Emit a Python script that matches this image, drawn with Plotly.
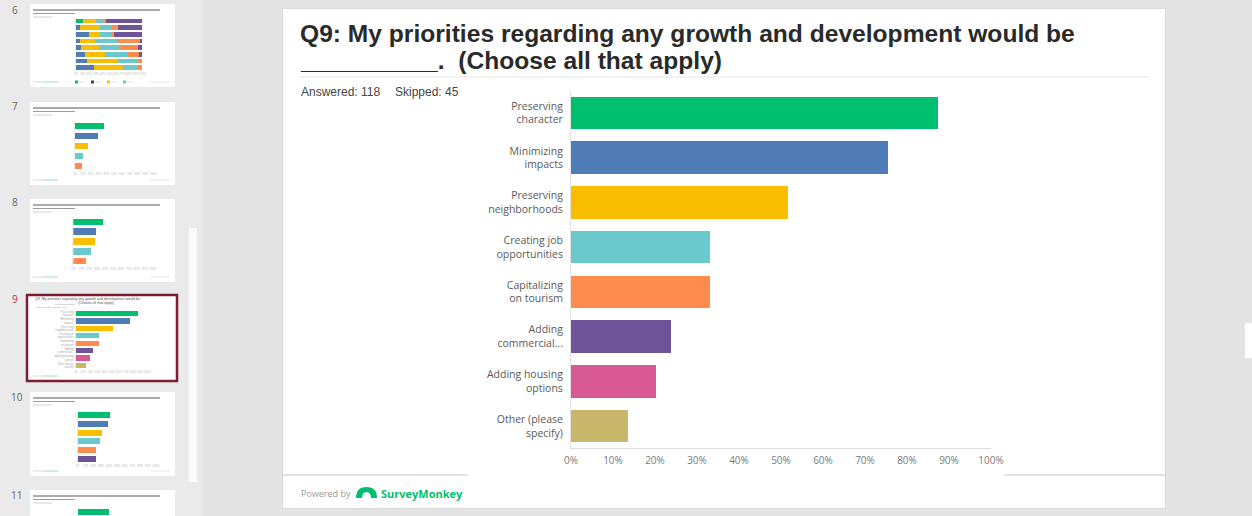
import plotly.graph_objects as go

W, H = 1252, 516


def fx(px):
    return px / W


def fy(py):
    return 1 - py / H


# ---------------- Q9 main chart data ----------------
categories = [
    "Preserving<br>character",
    "Minimizing<br>impacts",
    "Preserving<br>neighborhoods",
    "Creating job<br>opportunities",
    "Capitalizing<br>on tourism",
    "Adding<br>commercial...",
    "Adding housing<br>options",
    "Other (please<br>specify)",
]
percent = [87.29, 75.42, 51.69, 33.05, 33.05, 23.73, 20.34, 13.56]
bar_colors = ["#00bf6f", "#507cb6", "#f9be00", "#6bc8cd",
              "#ff8b4f", "#6f5399", "#d95a93", "#c8b66b"]
pct_ticks = [0, 10, 20, 30, 40, 50, 60, 70, 80, 90, 100]
pct_tick_text = ["0%", "10%", "20%", "30%", "40%", "50%",
                 "60%", "70%", "80%", "90%", "100%"]

title_line1 = "Q9: My priorities regarding any growth and development would be"
title_line2 = "__________.  (Choose all that apply)"
answered_text = "Answered: 118"
skipped_text = "Skipped: 45"

# ---------------- slide thumbnail data ----------------
q6_rows = ["r1", "r2", "r3", "r4", "r5", "r6", "r7", "r8"]
q6_seg1 = [10, 6, 19, 6.5, 7.5, 14, 16.5, 26.5]
q6_seg2 = [20, 30, 17.5, 22.5, 26.5, 29, 45, 45]
q6_seg3 = [12.5, 18, 16.5, 32.5, 32.5, 36, 32.5, 22.5]
q6_seg4 = [3, 10, 5, 35, 26.5, 16, 6, 6]
q6_seg5 = [54.5, 36, 42, 3.5, 7, 5, 0, 0]
q6_seg1_colors = ["#00bf6f"] + ["#507cb6"] * 7

q7_pct = [37.6, 29.0, 17.0, 10.3, 8.6]
q8_pct = [37.2, 28.4, 27.6, 21.7, 16.2]
q10_pct = [41.8, 38.8, 30.8, 28.2, 23.0, 23.0]
q11_pct = [40.5]

slide_numbers = ["6", "7", "8", "9", "10", "11"]

fig = go.Figure()

# main bar chart
fig.add_trace(go.Bar(
    x=percent, y=categories, orientation="h",
    marker=dict(color=bar_colors, line=dict(width=0)),
    width=0.73, xaxis="x", yaxis="y", hoverinfo="skip",
))

# thumbnail 6: stacked bars
for seg, col in [(q6_seg1, q6_seg1_colors), (q6_seg2, "#f9be00"),
                 (q6_seg3, "#6bc8cd"), (q6_seg4, "#ff8b4f"),
                 (q6_seg5, "#6f5399")]:
    fig.add_trace(go.Bar(
        x=seg, y=q6_rows, orientation="h", width=0.72,
        marker=dict(color=col, line=dict(width=0)),
        xaxis="x2", yaxis="y2", hoverinfo="skip",
    ))

thumb_palette = ["#00bf6f", "#507cb6", "#f9be00", "#6bc8cd", "#ff8b4f", "#6f5399"]


def mini_bars(vals, ax):
    fig.add_trace(go.Bar(
        x=vals, y=list(range(len(vals))), orientation="h", width=0.68,
        marker=dict(color=thumb_palette[:len(vals)], line=dict(width=0)),
        xaxis="x" + ax, yaxis="y" + ax, hoverinfo="skip",
    ))


mini_bars(q7_pct, "3")
mini_bars(q8_pct, "4")

# thumbnail 9: miniature of the main chart
fig.add_trace(go.Bar(
    x=percent, y=categories, orientation="h", width=0.72,
    marker=dict(color=bar_colors, line=dict(width=0)),
    xaxis="x5", yaxis="y5", hoverinfo="skip",
))

mini_bars(q10_pct, "6")
mini_bars(q11_pct, "7")

layout = dict(
    width=W, height=H,
    margin=dict(l=0, r=0, t=0, b=0, pad=0, autoexpand=False),
    paper_bgcolor="#e4e4e4",
    plot_bgcolor="rgba(0,0,0,0)",
    showlegend=False,
    barmode="stack",
    font=dict(family="Open Sans, Arial, sans-serif", color="#555"),
)

# main axes
layout["xaxis"] = dict(
    domain=[fx(571), fx(991)], range=[0, 100], anchor="y",
    tickvals=pct_ticks, ticktext=pct_tick_text,
    tickfont=dict(size=10, color="#7a7a7a"),
    showgrid=False, zeroline=False, automargin=False,
    showline=True, linecolor="#dedede", linewidth=1,
    ticks="", ticklabelstandoff=3, fixedrange=True,
)
layout["yaxis"] = dict(
    domain=[fy(448.4), fy(90.6)], anchor="x",
    categoryorder="array", categoryarray=categories,
    range=[7.5, -0.5],
    tickfont=dict(size=10.5, color="#5a5a5a"),
    showgrid=False, zeroline=False, automargin=False,
    showline=True, linecolor="#e2e2e2", linewidth=1,
    ticks="", ticklabelstandoff=5, fixedrange=True,
)


def mini_axes(n, x0, x100, ytop, ybot, nrows, tick_labels=True, cats=None):
    layout["xaxis" + n] = dict(
        domain=[fx(x0), fx(x100)], range=[0, 100], anchor="y" + n,
        tickvals=pct_ticks, ticktext=pct_tick_text,
        showticklabels=tick_labels, tickangle=0,
        tickfont=dict(size=3, color="#b8b8b8"),
        showgrid=False, zeroline=False, showline=False, ticks="",
        automargin=False, fixedrange=True,
    )
    ax = dict(
        domain=[max(0, fy(ybot)), fy(ytop)], anchor="x" + n,
        range=[nrows - 0.5, -0.5],
        showgrid=False, zeroline=False, ticks="", automargin=False,
        showline=True, linecolor="#ececec", linewidth=0.5,
        fixedrange=True,
    )
    if cats is None:
        ax["showticklabels"] = False
    else:
        ax["categoryorder"] = "array"
        ax["categoryarray"] = cats
        ax["tickfont"] = dict(size=2.6, color="#9a9a9a")
        ax["ticklabelstandoff"] = 1
    layout["yaxis" + n] = ax


mini_axes("2", 76, 142.3, 17.7, 71, 8)
layout["yaxis2"]["categoryorder"] = "array"
layout["yaxis2"]["categoryarray"] = q6_rows
mini_axes("3", 75, 153, 121, 171, 5)
mini_axes("4", 73.3, 152.7, 217, 266, 5)
mini_axes("5", 76, 147, 310, 369, 8, cats=categories)
mini_axes("6", 77.7, 155.7, 410.6, 463.4, 6)
mini_axes("7", 77.7, 155.7, 507.5, 516.5, 1, tick_labels=False)
layout["yaxis7"]["range"] = [(516 - 507.5) / 9 - 0.5, -0.5]
layout["yaxis7"]["showline"] = False

fig.update_layout(**layout)

shapes = []


def rect(x0, y0, x1, y1, fill, line_color=None, lw=0, layer="below"):
    shapes.append(dict(
        type="rect", xref="paper", yref="paper",
        x0=fx(x0), x1=fx(x1), y0=fy(y1), y1=fy(y0),
        fillcolor=fill, layer=layer,
        line=dict(color=line_color or fill, width=lw),
    ))


def hline(x0, x1, y, color, lw=1, layer="below"):
    shapes.append(dict(
        type="line", xref="paper", yref="paper",
        x0=fx(x0), x1=fx(x1), y0=fy(y), y1=fy(y),
        line=dict(color=color, width=lw), layer=layer,
    ))


# left thumbnail pane and its scrollbar
rect(0, 0, 203, 516, "#eaeaea")
rect(189, 228, 197, 482, "#fbfbfb")
# right edge tab
rect(1245, 323, 1252, 358, "#ffffff")

# slide page
rect(282, 8, 1166, 509, "#d9d9d9")
rect(283, 9, 1165, 508, "#ffffff")
hline(300, 1148, 77, "#e6e6e6", 1.2)
hline(283, 468, 475, "#e3e3e3", 2)
hline(1004, 1165, 475, "#e3e3e3", 2)

# slide thumbnails
thumb_frames = [(30, 4, 175, 87), (30, 102, 175, 185), (30, 199, 175, 282),
                (30, 392, 175, 476), (30, 490, 175, 530)]
for (x0, y0, x1, y1) in thumb_frames:
    rect(x0, y0, x1, y1, "#ffffff")
    hline(33, 160, y0 + 6, "#8f8f8f", 1.3)
    hline(33, 75, y0 + 9.5, "#9a9a9a", 1.2)
    hline(33, 52, y0 + 13, "#cccccc", 0.9)
    if y1 < 516:
        hline(33, 44, y1 - 5, "#cfcfcf", 0.8)
        hline(44, 58, y1 - 5, "#7fd8b0", 0.8)
        hline(150, 170, y1 - 5, "#e0e0e0", 0.8)
# selected thumbnail (slide 9)
rect(27, 295, 177, 381, "#ffffff", "#7d1f30", 2.5)
hline(33, 44, 376, "#cfcfcf", 0.8)
hline(44, 58, 376, "#7fd8b0", 0.8)

# Q6 thumbnail legend swatches
for xs, col in [(75, "#00bf6f"), (91, "#3b3b5e"), (107, "#f9be00"), (123, "#6bc8cd")]:
    rect(xs, 80.5, xs + 3, 83.5, col, layer="above")
    hline(xs + 4, xs + 10, 82, "#d5d5d5", 0.8, layer="above")

# SurveyMonkey mark in the footer
shapes.append(dict(
    type="path", xref="paper", yref="paper", layer="above",
    path=(f"M {fx(356):.5f},{fy(498):.5f} "
          f"Q {fx(356):.5f},{fy(487):.5f} {fx(366.5):.5f},{fy(487):.5f} "
          f"Q {fx(377):.5f},{fy(487):.5f} {fx(377):.5f},{fy(498):.5f} Z"),
    fillcolor="#00bf6f", line=dict(width=0),
))
shapes.append(dict(
    type="path", xref="paper", yref="paper", layer="above",
    path=(f"M {fx(362):.5f},{fy(498.5):.5f} "
          f"Q {fx(362):.5f},{fy(492):.5f} {fx(366.5):.5f},{fy(492):.5f} "
          f"Q {fx(371):.5f},{fy(492):.5f} {fx(371):.5f},{fy(498.5):.5f} Z"),
    fillcolor="#ffffff", line=dict(width=0),
))

fig.update_layout(shapes=shapes)

ann = []


def text(x, y, s, size, color, family="Liberation Sans, Arial, sans-serif",
         xanchor="left", yanchor="middle"):
    ann.append(dict(
        x=fx(x), y=fy(y), xref="paper", yref="paper", text=s,
        showarrow=False, xanchor=xanchor, yanchor=yanchor,
        font=dict(size=size, color=color, family=family),
    ))


# slide title
text(298, 33, "<b>" + title_line1 + "</b>", 24.6, "#2a2a2a")
text(298, 61, "<b>" + title_line2 + "</b>", 24.6, "#2a2a2a")
text(299, 92, answered_text, 12, "#444444")
text(393, 92, skipped_text, 12, "#444444")

# footer
text(299, 493, "Powered by", 9, "#9a9a9a", family="Open Sans, Arial, sans-serif")
text(379, 493, "<b>SurveyMonkey</b>", 11, "#00bf6f", family="Open Sans, Arial, sans-serif")

# thumbnail numbers
num_pos = [(10, 10), (10, 106), (10, 202), (10, 299), (9, 397), (9, 495)]
for s, (x, y) in zip(slide_numbers, num_pos):
    text(x, y, s, 10, "#b3364a" if s == "9" else "#666666",
         family="Open Sans, Arial, sans-serif")

# slide 9 thumbnail title
text(33, 299, title_line1, 3.6, "#555555")
text(52, 303, title_line2, 3.6, "#555555")
text(33, 307, answered_text + "   " + skipped_text, 2.4, "#999999")

fig.update_layout(annotations=ann)

fig.write_html("out.html", config={"displayModeBar": False})
